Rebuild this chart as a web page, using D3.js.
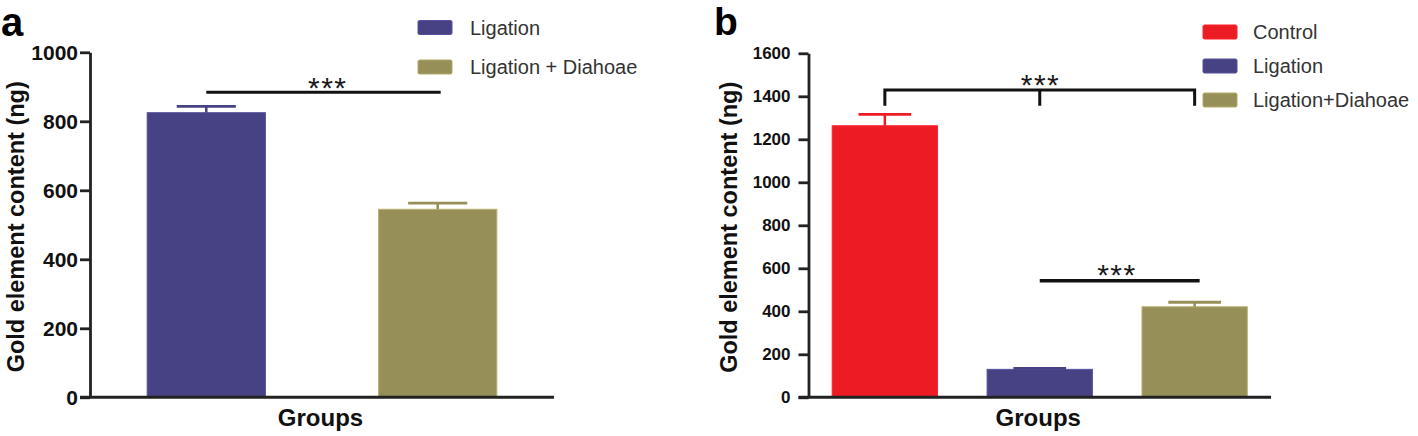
<!DOCTYPE html>
<html><head><meta charset="utf-8">
<script src="https://cdn.jsdelivr.net/npm/d3@7"></script>
<style>
html,body{margin:0;padding:0;background:#fff;}
svg{display:block;}
text{font-family:"Liberation Sans",Arial,Helvetica,sans-serif;}
</style></head>
<body><svg id="chart" width="1418" height="436"></svg>
<script>
// ---- data ----
const aCategories = ["Ligation", "Ligation + Diahoae"];
const aValues = [825, 545];
const aErrors = [18, 18];
const aColors = ["#474283", "#968f58"];
const aTicks = [0, 200, 400, 600, 800, 1000];
const aSignif = 884;

const bCategories = ["Control", "Ligation", "Ligation+Diahoae"];
const bValues = [1263, 130, 421];
const bErrors = [53, 5, 21];
const bColors = ["#ed1c24", "#474283", "#968f58"];
const bTicks = [0, 200, 400, 600, 800, 1000, 1200, 1400, 1600];
const bBracket = 1429, bBracketLow = 1356, bSignifLow = 542;

const yTitle = "Gold element content (ng)";
const xTitle = "Groups";

const svg = d3.select("#chart");

function panel(cfg) {
  const g = svg.append("g");
  const x = d3.scaleBand().domain(cfg.cats).range(cfg.xr)
    .paddingInner(cfg.pi).paddingOuter(cfg.po);
  const y = d3.scaleLinear().domain([0, cfg.ymax]).range(cfg.yr);
  const col = d3.scaleOrdinal().domain(cfg.cats).range(cfg.colors);
  const data = cfg.cats.map((c, i) => ({c, v: cfg.vals[i], e: cfg.errs[i]}));

  // bars
  g.selectAll("rect.bar").data(data).join("rect")
    .attr("x", d => x(d.c)).attr("width", x.bandwidth())
    .attr("y", d => y(d.v)).attr("height", d => y(0) - y(d.v))
    .attr("fill", d => col(d.c))
    .attr("stroke", d => d3.color(col(d.c)).brighter(0.6)).attr("stroke-width", 1);
  // error bars
  const capW = x.bandwidth() * cfg.capFrac;
  g.selectAll("line.stem").data(data).join("line")
    .attr("x1", d => x(d.c) + x.bandwidth() / 2).attr("x2", d => x(d.c) + x.bandwidth() / 2)
    .attr("y1", d => y(d.v)).attr("y2", d => y(d.v + d.e))
    .attr("stroke", d => col(d.c)).attr("stroke-width", 2.5);
  g.selectAll("line.cap").data(data).join("line")
    .attr("x1", d => x(d.c) + x.bandwidth() / 2 - capW / 2)
    .attr("x2", d => x(d.c) + x.bandwidth() / 2 + capW / 2)
    .attr("y1", d => y(d.v + d.e)).attr("y2", d => y(d.v + d.e))
    .attr("stroke", d => col(d.c)).attr("stroke-width", 2.8);

  // y axis
  const ax = g.append("g").attr("transform", `translate(${cfg.xr[0]},0)`)
    .call(d3.axisLeft(y).tickValues(cfg.ticks).tickFormat(d3.format("d"))
      .tickSize(10).tickSizeOuter(0).tickPadding(cfg.tpad));
  ax.select(".domain").attr("stroke", "#222").attr("stroke-width", 2.8);
  ax.selectAll(".tick line").attr("stroke", "#222").attr("stroke-width", 2.8);
  ax.selectAll(".tick text").attr("font-size", cfg.tickFont).attr("font-weight", "bold")
    .attr("fill", "#111").attr("font-family", "Liberation Sans, Arial, sans-serif");
  // x axis line
  g.append("line").attr("x1", cfg.xr[0] - 10).attr("x2", cfg.xend)
    .attr("y1", y(0)).attr("y2", y(0)).attr("stroke", "#222").attr("stroke-width", 3);

  // titles
  g.append("text").attr("transform", `translate(${cfg.ytx},${(y(0) + y(cfg.ymax)) / 2 + 2}) rotate(-90)`)
    .attr("text-anchor", "middle").attr("font-size", 23.5).attr("font-weight", "bold")
    .attr("fill", "#111").text(yTitle);
  g.append("text").attr("x", (cfg.xr[0] + cfg.xend) / 2 + cfg.gdx).attr("y", 426)
    .attr("text-anchor", "middle").attr("font-size", 24).attr("font-weight", "bold")
    .attr("fill", "#111").text(xTitle);
  // panel letter
  g.append("text").attr("x", cfg.letterX).attr("y", cfg.letterY)
    .attr("font-family", "Liberation Serif, Times New Roman, serif")
    .attr("font-size", cfg.letterSize).attr("font-weight", "bold").attr("fill", "#000")
    .text(cfg.letter);

  // legend
  const lg = g.selectAll("g.leg").data(cfg.cats).join("g")
    .attr("transform", (d, i) => `translate(${cfg.legX},${cfg.legY[i]})`);
  lg.append("rect").attr("x", 0).attr("y", -7).attr("width", 34).attr("height", 14)
    .attr("rx", 1.5).attr("fill", d => col(d)).attr("stroke", d => d3.color(col(d)).brighter(0.5)).attr("stroke-width", 1);
  lg.append("text").attr("x", cfg.legTX).attr("y", 7).attr("font-size", cfg.legFont)
    .attr("fill", "#333").text(d => d);

  return {x, y, g};
}

function stars(g, cx, baseline) {
  g.append("text").attr("x", cx + 0.7).attr("y", baseline).attr("text-anchor", "middle")
    .attr("font-size", 30).attr("letter-spacing", 1.4).attr("fill", "#1a1a1a").text("***");
}

// ---- panel a ----
const A = panel({
  cats: aCategories, vals: aValues, errs: aErrors, colors: aColors, ticks: aTicks,
  ymax: 1000, xr: [90, 554], yr: [397.3, 52.3], pi: 0.489, po: 0.247, xend: 554,
  capFrac: 0.5, tpad: 2, tickFont: 21, ytx: 24, gdx: -1.5,
  letter: "a", letterX: 1, letterY: 36, letterSize: 40,
  legX: 418, legY: [27.5, 67], legTX: 52, legFont: 20
});
{
  const cx = A.x.bandwidth() / 2;
  const x1 = A.x(aCategories[0]) + cx, x2 = A.x(aCategories[1]) + cx;
  A.g.append("line").attr("x1", x1).attr("x2", x2 + 3)
    .attr("y1", A.y(aSignif)).attr("y2", A.y(aSignif)).attr("stroke", "#111").attr("stroke-width", 3);
  stars(A.g, 327, 97.5);
}

// ---- panel b ----
const B = panel({
  cats: bCategories, vals: bValues, errs: bErrors, colors: bColors, ticks: bTicks,
  ymax: 1600, xr: [808.5, 1271], yr: [397.3, 53.3], pi: 0.32, po: 0.153, xend: 1271,
  capFrac: 0.5, tpad: 8, tickFont: 17, ytx: 737, gdx: -1.5,
  letter: "b", letterX: 714, letterY: 35, letterSize: 39,
  legX: 1203, legY: [32, 66, 100], legTX: 50, legFont: 20
});
{
  const h = B.x.bandwidth() / 2;
  const c = bCategories.map(k => B.x(k) + h);
  const yb = B.y(bBracket), yl = B.y(bBracketLow);
  B.g.append("path")
    .attr("d", `M${c[0]},${yl}V${yb}H${c[2]}V${yl}M${c[1]},${yb}V${yl}`)
    .attr("fill", "none").attr("stroke", "#111").attr("stroke-width", 3);
  stars(B.g, c[1], yb + 5);
  const ys = B.y(bSignifLow);
  B.g.append("line").attr("x1", c[1]).attr("x2", c[2] + 5)
    .attr("y1", ys).attr("y2", ys).attr("stroke", "#111").attr("stroke-width", 3.5);
  stars(B.g, (c[1] + c[2]) / 2 - 1, ys + 4);
}
</script></body></html>
